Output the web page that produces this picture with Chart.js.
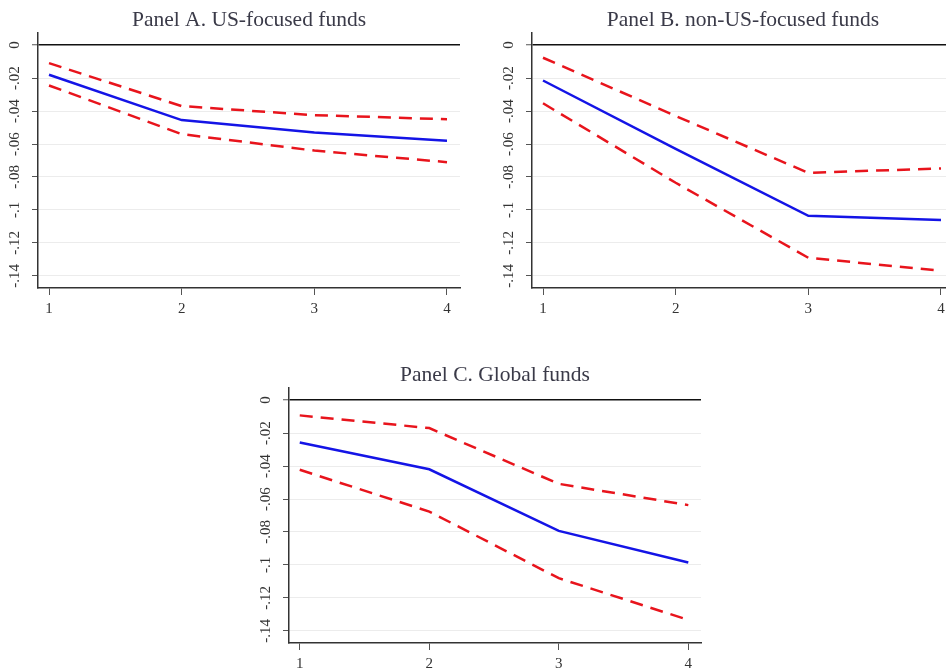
<!DOCTYPE html>
<html>
<head>
<meta charset="utf-8">
<script src="https://cdn.jsdelivr.net/npm/chart.js@4"></script>
<style>
    body { margin: 0; background: #fff; width: 946px; height: 671px; overflow: hidden; position: relative; }
    canvas { position: absolute; }
    #panelA { left: 0px; top: 0px; }
    #panelB { left: 494px; top: 0px; }
    #panelC { left: 251px; top: 355px; }
</style>
</head>
<body>
<canvas id="panelA" width="470" height="323"></canvas>
<canvas id="panelB" width="470" height="323"></canvas>
<canvas id="panelC" width="460" height="323"></canvas>
<script>
// horizon (x axis)
var horizons = [1, 2, 3, 4];

// Panel A. US-focused funds
var usCoef = [-0.018, -0.0455, -0.053, -0.058];
var usUpper = [-0.011, -0.037, -0.0425, -0.045];
var usLower = [-0.0245, -0.054, -0.064, -0.071];

// Panel B. non-US-focused funds
var nonUsCoef = [-0.0215, -0.063, -0.1035, -0.106];
var nonUsUpper = [-0.0077, -0.043, -0.0775, -0.0748];
var nonUsLower = [-0.0353, -0.0835, -0.129, -0.1368];

// Panel C. Global funds
var globalCoef = [-0.0257, -0.042, -0.0793, -0.0985];
var globalUpper = [-0.0093, -0.017, -0.0508, -0.0637];
var globalLower = [-0.0423, -0.0676, -0.108, -0.1333];

// tick values
var yTicks = [0, -0.02, -0.04, -0.06, -0.08, -0.1, -0.12, -0.14];
var xTicks = [1, 2, 3, 4];

var serif = '"Liberation Serif", "Times New Roman", serif';
var textColor = '#333';

function toPoints(values) {
    return horizons.map(function(h, i) { return { x: h, y: values[i] }; });
}

// Stata style label: -0.02 -> -.02
function stataLabel(v) {
    if (v === 0) return '0';
    return String(v).replace('0.', '.');
}

function makePanel(canvasId, title, coef, upper, lower) {
    var ctx = document.getElementById(canvasId).getContext('2d');
    var redLine = {
        borderColor: '#e8141c',
        borderWidth: 2.5,
        borderDash: [13, 8],
        pointRadius: 0,
        fill: false
    };
    return new Chart(ctx, {
        type: 'line',
        data: {
            datasets: [
                Object.assign({ label: 'upper', data: toPoints(upper) }, redLine),
                Object.assign({ label: 'lower', data: toPoints(lower) }, redLine),
                {
                    label: 'coef',
                    data: toPoints(coef),
                    borderColor: '#1414e6',
                    borderWidth: 2.5,
                    pointRadius: 0,
                    fill: false
                }
            ]
        },
        options: {
            responsive: false,
            animation: false,
            layout: { padding: { left: 0, right: 10, top: 0, bottom: 0 } },
            plugins: {
                legend: { display: false },
                tooltip: { enabled: false },
                title: {
                    display: true,
                    text: title,
                    fullSize: false,
                    color: '#3a3a48',
                    font: { family: serif, size: 21.5, weight: 'normal' },
                    padding: { top: 7, bottom: 0.2 }
                }
            },
            scales: {
                x: {
                    type: 'linear',
                    min: 0.917,
                    max: 4.098,
                    afterBuildTicks: function(scale) {
                        scale.ticks = xTicks.map(function(v) { return { value: v }; });
                    },
                    afterFit: function(scale) { scale.height = 35; },
                    ticks: {
                        color: textColor,
                        font: { family: serif, size: 15 },
                        padding: 5,
                        maxRotation: 0,
                        callback: function(v) { return String(v); }
                    },
                    grid: {
                        drawOnChartArea: false,
                        tickLength: 7,
                        tickColor: '#555',
                        tickWidth: 1
                    },
                    border: { color: '#333', width: 1.5 }
                },
                y: {
                    min: -0.1473,
                    max: 0.0073,
                    afterBuildTicks: function(scale) {
                        scale.ticks = yTicks.map(function(v) { return { value: v }; });
                    },
                    afterFit: function(scale) { scale.width = 38; },
                    ticks: {
                        color: textColor,
                        font: { family: serif, size: 15 },
                        minRotation: 90,
                        maxRotation: 90,
                        crossAlign: 'center',
                        padding: 5,
                        callback: function(v) { return stataLabel(v); }
                    },
                    grid: {
                        color: function(c) { return c.tick && c.tick.value === 0 ? '#111' : '#ececec'; },
                        lineWidth: function(c) { return c.tick && c.tick.value === 0 ? 1.5 : 1; },
                        tickLength: 6,
                        tickColor: '#555',
                        tickWidth: 1
                    },
                    border: { color: '#333', width: 1.5 }
                }
            }
        }
    });
}

makePanel('panelA', 'Panel A. US-focused funds', usCoef, usUpper, usLower);
makePanel('panelB', 'Panel B. non-US-focused funds', nonUsCoef, nonUsUpper, nonUsLower);
makePanel('panelC', 'Panel C. Global funds', globalCoef, globalUpper, globalLower);
</script>
</body>
</html>
